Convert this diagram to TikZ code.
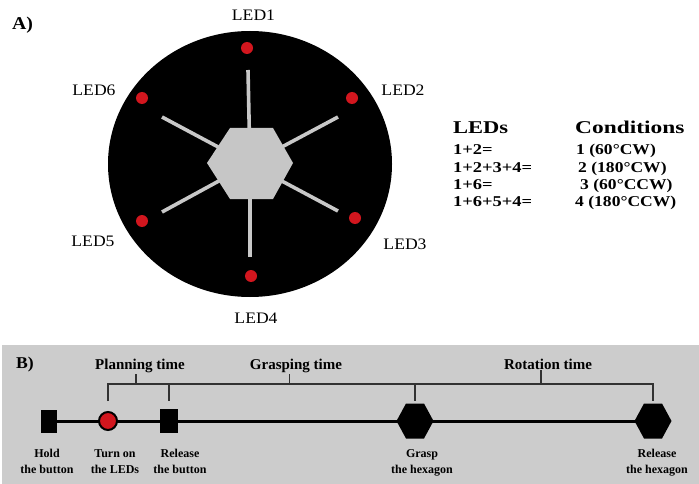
\documentclass[tikz,border=0pt]{standalone}
\usepackage{fontspec}
\setmainfont{Liberation Serif}
\usepackage{graphicx}
\usetikzlibrary{calc}
\definecolor{ledred}{RGB}{210,22,30}
\definecolor{spokegray}{RGB}{200,200,200}
\definecolor{hexgray}{RGB}{198,198,198}
\definecolor{panelgray}{RGB}{204,204,204}
\definecolor{brkgray}{RGB}{50,50,50}
\newcommand\wx[2]{\scalebox{#1}[1]{#2}}
\tikzset{
  ledlab/.style={font=\fontsize{16}{18}\selectfont, inner sep=0pt},
  leddot/.style={circle, fill=ledred, minimum size=12pt, inner sep=0pt},
  spoke/.style={draw=spokegray, line width=3.6pt},
  tabhead/.style={font=\bfseries\fontsize{18}{20}\selectfont, inner sep=0pt, anchor=base west},
  tabrow/.style={font=\bfseries\fontsize{15}{17}\selectfont, inner sep=0pt, anchor=base west},
  panlab/.style={font=\bfseries\fontsize{16.5}{18}\selectfont, inner sep=0pt},
  mainline/.style={draw=black, line width=3pt},
  sqbox/.style={rectangle, fill=black, inner sep=0pt},
  brk/.style={draw=brkgray, line width=1.3pt},
  brklab/.style={font=\bfseries\fontsize{15}{17}\selectfont, inner sep=1pt, anchor=base},
  evlab/.style={font=\bfseries\fontsize{12}{16}\selectfont, inner sep=0pt, anchor=north, align=center},
}
\begin{document}
\begin{tikzpicture}[x=1pt,y=-1pt]
\useasboundingbox (0,0) rectangle (699,484);
% ---------------- Panel A ----------------
\node[panlab, font=\bfseries\fontsize{18}{20}\selectfont] (labA) at (22.5,25) {\wx{1.1}{A)}};
\coordinate (ctr) at (250,164);
\fill[black] (ctr) ellipse [x radius=142, y radius=133];
% spokes
\coordinate (s1) at (248,70);
\coordinate (s2) at (338,117);
\coordinate (s3) at (338,211);
\coordinate (s4) at (250,257);
\coordinate (s5) at (162,212);
\coordinate (s6) at (162,117);
\foreach \s in {s1,s2,s3,s4,s5,s6} \draw[spoke] (ctr) -- (\s);
% central hexagon
\fill[hexgray] (207,163) -- (230,128) -- (273,128) -- (293,163) -- (273,199) -- (230,199) -- cycle;
% LEDs
\node[leddot] (d1) at (247,48) {};
\node[leddot] (d2) at (352,98) {};
\node[leddot] (d3) at (355,218) {};
\node[leddot] (d4) at (251,276) {};
\node[leddot] (d5) at (142,221) {};
\node[leddot] (d6) at (142,98) {};
\node[ledlab] (l1) at (253.5,15.5) {\wx{1.1}{LED1}};
\node[ledlab] (l2) at (403,90) {\wx{1.1}{LED2}};
\node[ledlab] (l3) at (405,244) {\wx{1.1}{LED3}};
\node[ledlab] (l4) at (256,318) {\wx{1.1}{LED4}};
\node[ledlab] (l5) at (93,241) {\wx{1.1}{LED5}};
\node[ledlab] (l6) at (94,90) {\wx{1.1}{LED6}};
% table
\node[tabhead] (th1) at (453,133.5) {\wx{1.25}{LEDs}};
\node[tabhead] (th2) at (575,133.5) {\wx{1.3}{Conditions}};
\node[tabrow] (r1a) at (453,155) {\wx{1.23}{1+2=}};
\node[tabrow] (r2a) at (453,172) {\wx{1.23}{1+2+3+4=}};
\node[tabrow] (r3a) at (453,189.5) {\wx{1.23}{1+6=}};
\node[tabrow] (r4a) at (453,207) {\wx{1.23}{1+6+5+4=}};
\node[tabrow] (r1b) at (576,155) {\wx{1.17}{1 (60°CW)}};
\node[tabrow] (r2b) at (578,172) {\wx{1.17}{2 (180°CW)}};
\node[tabrow] (r3b) at (580,189.5) {\wx{1.17}{3 (60°CCW)}};
\node[tabrow] (r4b) at (575,207) {\wx{1.17}{4 (180°CCW)}};
% ---------------- Panel B ----------------
\fill[panelgray] (2,345) rectangle (699,484);
\node[panlab] (labB) at (25,364.5) {\wx{1.07}{B)}};
\coordinate (c1) at (49,421);
\coordinate (c2) at (108,421);
\coordinate (c3) at (169,421);
\coordinate (c4) at (415,421);
\coordinate (c5) at (653,421);
\draw[mainline] (c1) -- (c5);
\node[sqbox, minimum width=16pt, minimum height=23pt] (hold) at (c1) {};
\node[circle, fill=ledred, draw=black, line width=2pt, minimum size=18pt, inner sep=0pt] (led) at (c2) {};
\node[sqbox, minimum width=18pt, minimum height=24pt] (relb) at (c3) {};
\foreach \c in {c4,c5}
  \fill[black] ([xshift=-18.5pt]\c) -- ([xshift=-9pt,yshift=17.5pt]\c) -- ([xshift=9pt,yshift=17.5pt]\c)
     -- ([xshift=18.5pt]\c) -- ([xshift=9pt,yshift=-17.5pt]\c) -- ([xshift=-9pt,yshift=-17.5pt]\c) -- cycle;
% brackets
\draw[brk] ([yshift=20pt]c2) -- ([yshift=37pt]c2) -- ([yshift=37pt]c5) -- ([yshift=20pt]c5);
\draw[brk] ([yshift=37pt]c3) -- ([yshift=20pt]c3);
\draw[brk] ([yshift=37pt]c4) -- ([yshift=20pt]c4);
\node[brklab] (tplan) at (140,369) {Planning time};
\node[brklab] (tgrasp) at (296,369) {Grasping time};
\node[brklab] (trot) at (548,369) {Rotation time};
\coordinate (k1) at ($([yshift=37pt]c2)!0.46!([yshift=37pt]c3)$);
\coordinate (k2) at ($([yshift=37pt]c3)!0.49!([yshift=37pt]c4)$);
\coordinate (k3) at ($([yshift=37pt]c4)!0.53!([yshift=37pt]c5)$);
\draw[brk] (k1) -- (k1 |- tplan.south);
\draw[brk] (k2) -- (k2 |- tgrasp.south);
\draw[brk] (k3) -- (k3 |- trot.south);
% event labels
\node[evlab] (e1) at (47,449) {Hold\\the button};
\node[evlab] (e2) at (115,449) {Turn on\\the LEDs};
\node[evlab] (e3) at (180,449) {Release\\the button};
\node[evlab] (e4) at (422,449) {Grasp\\the hexagon};
\node[evlab] (e5) at (657,449) {Release\\the hexagon};
\end{tikzpicture}
\end{document}
